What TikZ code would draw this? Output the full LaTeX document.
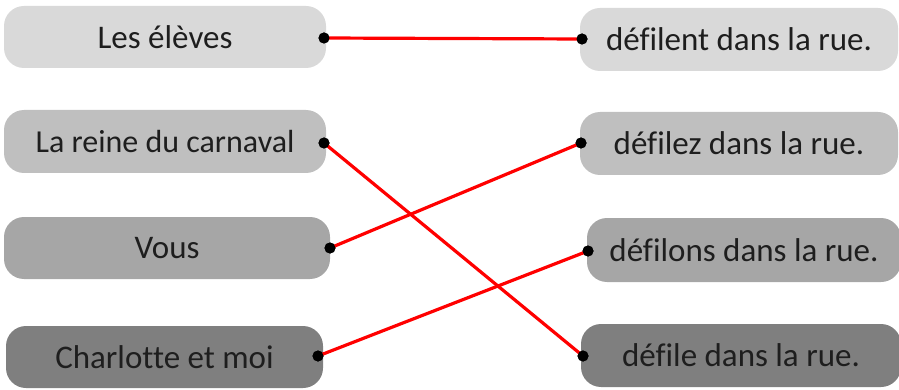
\documentclass[tikz,border=0pt]{standalone}
\usepackage{fontspec}
\setmainfont[Ligatures=NoCommon]{Carlito}
\definecolor{g1}{HTML}{D9D9D9}
\definecolor{g2}{HTML}{BFBFBF}
\definecolor{g3}{HTML}{A6A6A6}
\definecolor{g4}{HTML}{7F7F7F}
\definecolor{txt}{HTML}{1E1E1E}
\tikzset{
  pill/.style={rounded corners=20pt, inner sep=0pt, minimum height=62pt, text=txt, font=\fontsize{33}{36}\selectfont},
  dot/.style={circle, fill=black, inner sep=0pt, minimum size=11pt},
  link/.style={red, line width=3.2pt}
}
\begin{document}
\begin{tikzpicture}[x=1pt,y=-1pt]
\useasboundingbox (0,0) rectangle (899,390);
% left boxes
\node[pill, fill=g1, minimum width=322pt] (l1) at (165,37) {Les élèves};
\node[pill, fill=g2, minimum width=322pt, minimum height=63pt, font=\fontsize{32}{35}\selectfont] (l2) at (165,141.5) {La reine du carnaval};
\node[pill, fill=g3, minimum width=326pt] (l3) at (167,248) {Vous};
\node[pill, fill=g4, minimum width=317pt] (l4) at (164.5,357) {Charlotte et moi};
% right boxes
\node[pill, fill=g1, minimum width=318pt, minimum height=63pt] (r1) at (739,39.5) {défilent dans la rue.};
\node[pill, fill=g2, minimum width=318pt, minimum height=63pt] (r2) at (739,143.5) {défilez dans la rue.};
\node[pill, fill=g3, minimum width=314pt, minimum height=64pt] (r3) at (744,250) {défilons dans la rue.};
\node[pill, fill=g4, minimum width=320pt, minimum height=63pt] (r4) at (741,355.5) {défile dans la rue.};
% dots (anchor points)
\node[dot] (dl1) at (324,38) {};
\node[dot] (dl2) at (324,143) {};
\node[dot] (dl3) at (330,248) {};
\node[dot] (dl4) at (318,356) {};
\node[dot] (dr1) at (582,39) {};
\node[dot] (dr2) at (581,143) {};
\node[dot] (dr3) at (588,251) {};
\node[dot] (dr4) at (583,356) {};
% links
\draw[link] (dl1.center) -- (dr1.center);
\draw[link] (dl2.center) -- (dr4.center);
\draw[link] (dl3.center) -- (dr2.center);
\draw[link] (dl4.center) -- (dr3.center);
% dots on top of the links
\foreach \d in {dl1,dl2,dl3,dl4,dr1,dr2,dr3,dr4} \fill (\d) circle (5.5pt);
\end{tikzpicture}
\end{document}
